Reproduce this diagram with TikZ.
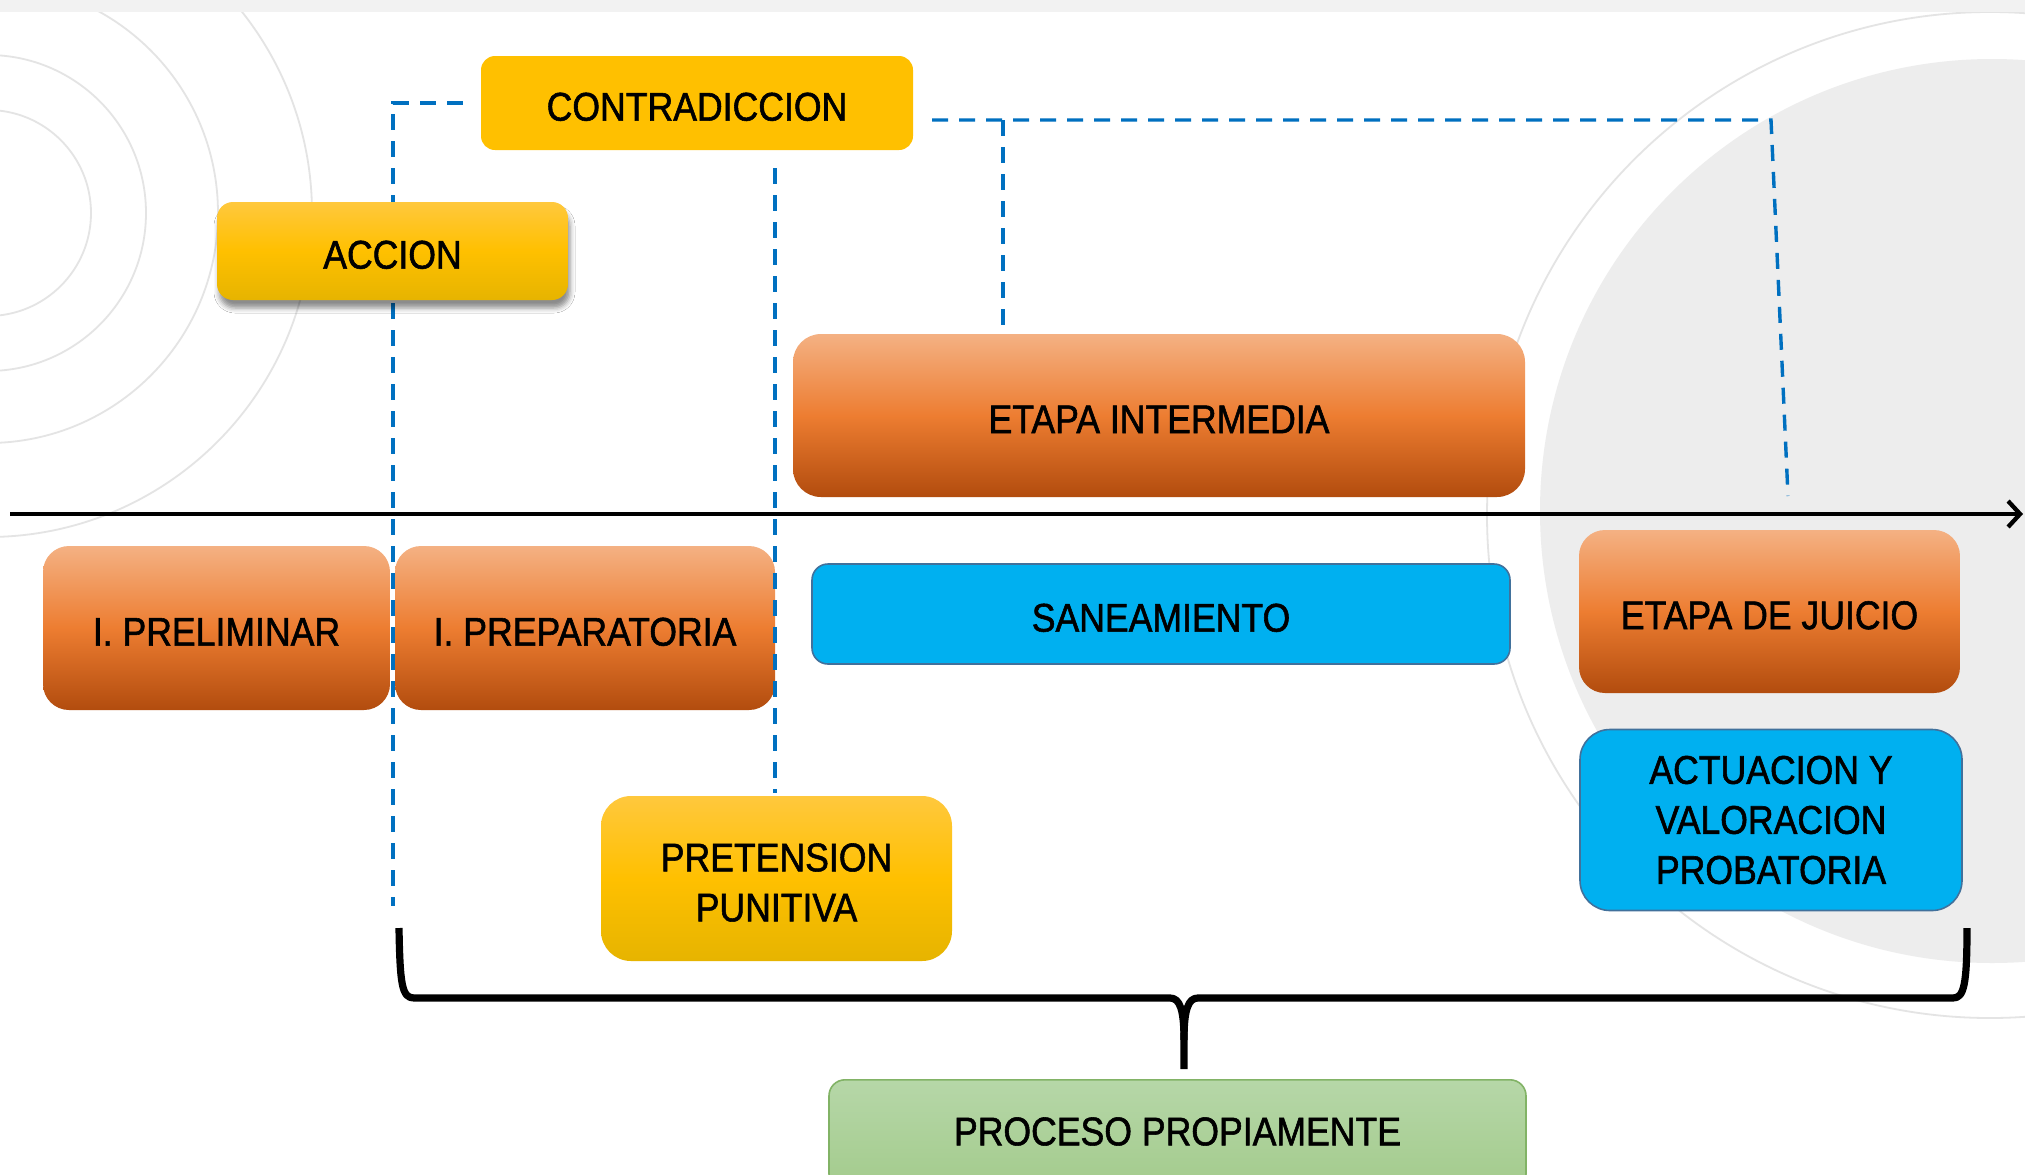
\documentclass[tikz,border=0pt]{standalone}
\usepackage{fontspec}
\setmainfont{Liberation Sans}[FakeStretch=0.89, FakeBold=1.4]
\usetikzlibrary{arrows.meta,shadows.blur}
\definecolor{bandgray}{HTML}{F2F2F2}
\definecolor{circgray}{HTML}{E4E4E4}
\definecolor{discgray}{HTML}{EDEDED}
\definecolor{orT}{HTML}{F4B183}
\definecolor{orM}{HTML}{ED7D31}
\definecolor{orB}{HTML}{B24C0E}
\definecolor{yeT}{HTML}{FFC83D}
\definecolor{yeM}{HTML}{FFC000}
\definecolor{yeB}{HTML}{E6B400}
\definecolor{blueF}{HTML}{00B0F0}
\definecolor{blueD}{HTML}{41719C}
\definecolor{grT}{HTML}{B6D7A8}
\definecolor{grB}{HTML}{A3CB8C}
\definecolor{grD}{HTML}{82B366}
\definecolor{dashblue}{HTML}{0070C0}
\tikzset{
  sz/.style 2 args={minimum width=#1pt, minimum height=#2pt},
  boxbase/.style={inner sep=0pt, align=center, text=black},
  oneline/.style={text height=17.6pt, text depth=0pt},
  orangebox/.style={boxbase, rounded corners=13pt, top color=orT, bottom color=orB, middle color=orM},
  yellowbox/.style={boxbase, rounded corners=#1, top color=yeT, bottom color=yeB, middle color=yeM},
  flatyellow/.style={boxbase, rounded corners=7pt, fill=yeM},
  bluebox/.style={boxbase, rounded corners=#1, fill=blueF, draw=blueD, line width=0.8pt},
  greenbox/.style={boxbase, rounded corners=8pt, top color=grT, bottom color=grB, draw=grD, line width=0.8pt},
  dashline/.style={draw=dashblue, line width=1.7pt, dash pattern=on 8pt off 5.5pt},
  circline/.style={draw=circgray, line width=0.9pt},
  bracel/.style={draw=black, line width=3.6pt, line cap=butt, line join=round},
}
\begin{document}
\begin{tikzpicture}[x=0.5pt,y=-0.5pt, every node/.style={font=\fontsize{20}{25}\selectfont}]
\useasboundingbox (0,0) rectangle (2025,1174);
\clip (0,0) rectangle (2025,1174);
\fill[white] (0,0) rectangle (2025,1174);
% background circles
\foreach \r in {51.5,79,115,162} \draw[circline] (-12,213) circle[radius=\r pt];
\draw[circline] (1990,515) circle[radius=251.5pt];
\fill[discgray] (1992,511) circle[radius=226pt];
\fill[bandgray] (0,0) rectangle (2025,12);
% time axis
\coordinate (axs) at (10,514);
\coordinate (axe) at (2023,514);
\draw[line width=2.15pt, -{Straight Barb[length=6pt,width=13pt]}] (axs) -- (axe);
% nodes
\node[flatyellow, oneline, sz={216}{47}] (contra) at (697,103) {CONTRADICCION};
\node[orangebox, oneline, rounded corners=14pt, sz={366}{81.5}] (inter) at (1159,415.5) {ETAPA INTERMEDIA};
\node[orangebox, oneline, sz={173.5}{82}] (prelim) at (216.5,628) {I. PRELIMINAR};
\node[orangebox, oneline, sz={190}{82}] (prepar) at (585,628) {I. PREPARATORIA};
\node[bluebox=8pt, oneline, sz={349}{50}] (sanea) at (1161,614) {SANEAMIENTO};
\node[orangebox, oneline, sz={190.5}{81.5}] (juicio) at (1769.5,611.5) {ETAPA DE JUICIO};
\node[bluebox=15pt, sz={191}{90.5}] (actua) at (1771,820) {ACTUACION Y\\VALORACION\\PROBATORIA};
\node[yellowbox=15pt, text height=43pt, sz={175.5}{82.5}] (pret) at (776.5,878.5) {PRETENSION\\PUNITIVA};
\node[greenbox, minimum width=348.5pt, anchor=north, inner ysep=0pt, text height=32.75pt, text depth=22.25pt] (proc) at (1177.5,1079) {PROCESO PROPIAMENTE};
% dashed connectors
\coordinate (l1end) at (393,906);
\draw[dashline] ([xshift=-9pt]contra.west) -| (l1end);
\coordinate (l2top) at (775,168);
\draw[dashline] (l2top) -- ([yshift=1.5pt]l2top |- pret.north);
\coordinate (l3s) at (932,120);
\coordinate (l3c) at (1771,120);
\coordinate (l3e) at (1788,496);
\draw[dashline] (l3s) -- (l3c) -- (l3e);
\coordinate (l4s) at (1003,120);
\draw[dashline] (l4s) -- (l4s |- inter.north);
% accion on top of the dashed line
\node[yellowbox=8pt, oneline, sz={175.5}{49}, blur shadow={shadow xshift=1pt, shadow yshift=-4pt, shadow blur radius=2.5pt, shadow opacity=45}] (accion) at (392.5,251) {ACCION};
% brace
\coordinate (bl) at (399,928);
\coordinate (br) at (1967,928);
\coordinate (bm) at (1184,1069);
\draw[bracel] (bl) .. controls (400,985) and (402,998) .. (414,998) -- (1170,998) .. controls (1180,998) and (1184,1010) .. (1184,1040) -- (bm);
\draw[bracel] (1184,1040) .. controls (1184,1010) and (1188,998) .. (1198,998) -- (1953,998) .. controls (1964,998) and (1967,985) .. (br);
\end{tikzpicture}
\end{document}
